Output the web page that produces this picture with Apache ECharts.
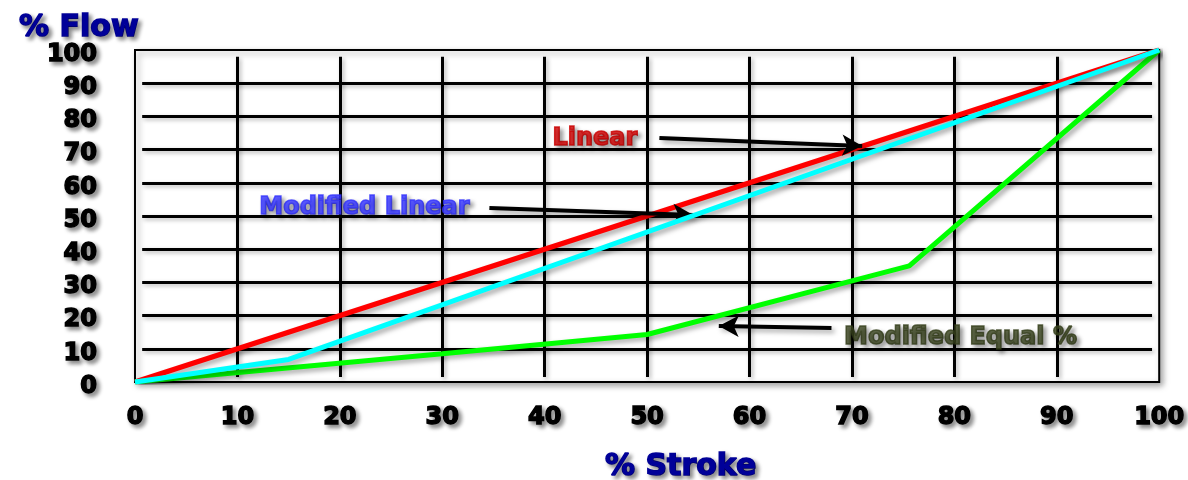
<!DOCTYPE html>
<html><head><meta charset="utf-8">
<script src="https://cdn.jsdelivr.net/npm/echarts@6/dist/echarts.min.js"></script>
<style>html,body{margin:0;padding:0;background:#fff;overflow:hidden}#c{width:1188px;height:480px}</style>
</head><body><div id="c"></div>
<script>
var xTicks = [0,10,20,30,40,50,60,70,80,90,100];
var yTicks = [0,10,20,30,40,50,60,70,80,90,100];
var linear = [[0,0],[100,100]];
var modifiedLinear = [[0,0],[15,6.8],[100,100]];
var modifiedEqual = [[0,0],[30,8.5],[50,14.3],[75.6,35],[100,100]];
var annoText = ['Linear','Modified Linear','Modified Equal %'];
var annoColor = ['#cc0000','#3333ff','#36401c'];
var annoPos = [[44.9,73.2],[22.4,52.6],[80.6,13.3]];
var arrowFrom = [[51.2,73.5],[34.6,52.4],[68.0,16.3]];
var arrowTo = [[71.0,71.1],[54.5,50.3],[57.0,16.9]];

var FONT = '"DejaVu Sans", Verdana, Arial, sans-serif';
var shadow = {textShadowColor:'rgba(0,0,0,0.45)', textShadowBlur:4, textShadowOffsetX:3, textShadowOffsetY:3};
function txt(o){ return Object.assign({fontFamily:FONT, fontWeight:'bold', textBorderColor:o.color, textBorderWidth:1.5}, shadow, o); }
var lineShadow = {shadowColor:'rgba(0,0,0,0.35)', shadowBlur:5, shadowOffsetX:3, shadowOffsetY:3};

// inner grid lines (inset from the frame like the original)
var gridLineData = [];
yTicks.forEach(function(v){ if (v>0 && v<100) gridLineData.push([{coord:[0.7,v]},{coord:[99.3,v]}]); });
xTicks.forEach(function(v){ if (v>0 && v<100) gridLineData.push([{coord:[v,1.5]},{coord:[v,98]}]); });

var chart = echarts.init(document.getElementById('c'));
var arrowData = arrowFrom.map(function(f,i){ return [{coord:f},{coord:arrowTo[i]}]; });
var labelData = annoPos.map(function(p,i){
  return {value:p, label:txt({show:true, formatter:annoText[i], color:annoColor[i], fontSize:24, position:'inside'})};
});
chart.setOption({
  animation:false,
  title:[
    {text:'% Flow', left:14, top:8, textStyle:txt({color:'#000099', fontSize:30, lineHeight:30})},
    {text:'% Stroke', left:600, top:447, textStyle:txt({color:'#000099', fontSize:30, lineHeight:30})}
  ],
  grid:{left:135, right:21, top:50, bottom:98, show:true, borderColor:'#000', borderWidth:2, shadowColor:'rgba(0,0,0,0.35)', shadowBlur:6, shadowOffsetX:3, shadowOffsetY:3, backgroundColor:'#fff'},
  xAxis:{type:'value', min:0, max:100, interval:10,
    axisLine:{show:false}, axisTick:{show:false}, splitLine:{show:false},
    axisLabel:txt({color:'#000', fontSize:24, lineHeight:24, margin:24, formatter:function(v){return xTicks.indexOf(v)>=0?String(v):'';}})},
  yAxis:{type:'value', min:0, max:100, interval:10,
    axisLine:{show:false}, axisTick:{show:false}, splitLine:{show:false},
    axisLabel:txt({color:'#000', fontSize:24, lineHeight:9, verticalAlign:'top', margin:38, formatter:function(v){return yTicks.indexOf(v)>=0?String(v):'';}})},
  series:[
    {type:'line', data:[], symbol:'none', z:1,
      markLine:{silent:true, symbol:['none','none'], label:{show:false}, z:1,
        lineStyle:{color:'#000', width:3, type:'solid', shadowColor:'rgba(0,0,0,0.3)', shadowBlur:4, shadowOffsetX:2, shadowOffsetY:2}, data:gridLineData}},
    {type:'line', data:linear, symbol:'none', lineStyle:Object.assign({color:'#ff0000', width:5}, lineShadow), z:3},
    {type:'line', data:modifiedEqual, symbol:'none', lineStyle:Object.assign({color:'#00ff00', width:5}, lineShadow), z:4},
    {type:'line', data:modifiedLinear, symbol:'none', lineStyle:Object.assign({color:'#00ffff', width:5}, lineShadow), z:5,
      markLine:{silent:true, symbol:['none','arrow'], symbolSize:[16,20], label:{show:false},
        lineStyle:Object.assign({color:'#000', width:4, type:'solid'}, lineShadow), data:arrowData}},
    {type:'scatter', data:labelData, symbol:'circle', symbolSize:1, itemStyle:{color:'rgba(0,0,0,0)'}, z:10, silent:true}
  ]
});
</script></body></html>
